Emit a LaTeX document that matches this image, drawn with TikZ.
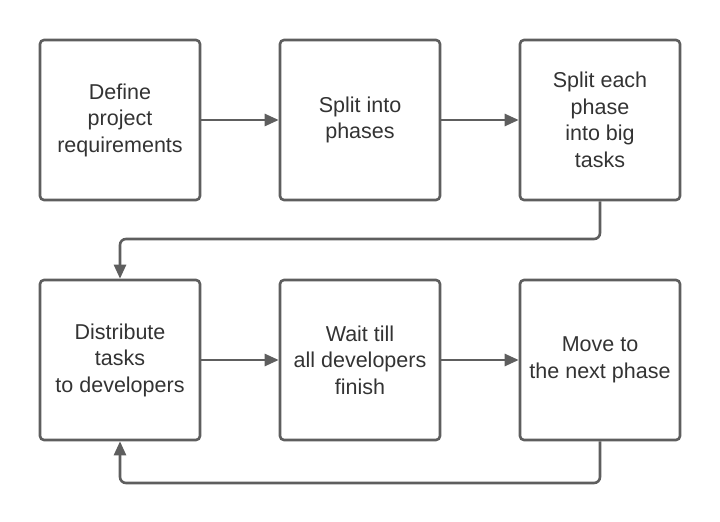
\documentclass[tikz,border=0pt]{standalone}
\usepackage{fontspec}
\setmainfont{Liberation Sans}
\usetikzlibrary{arrows.meta}
\definecolor{ln}{HTML}{5E5E5E}
\definecolor{tx}{HTML}{333333}
\begin{document}
\begin{tikzpicture}[x=1bp,y=-1bp,
  box/.style={draw=ln, line width=2.6bp, rounded corners=4bp, minimum width=160bp, minimum height=160bp,
    inner sep=0pt, align=center, text=tx, font=\fontsize{21.5bp}{26.5bp}\selectfont},
  conn/.style={draw=ln, line width=2.6bp, rounded corners=6bp, -{Triangle[length=14bp,width=12bp]}}]
\useasboundingbox (0,0) rectangle (720,522);
\node[box] (a) at (120,120) {Define\\project\\requirements};
\node[box] (b) at (360,120) {Split into\\phases};
\node[box] (c) at (600,120) {Split each\\phase\\into big\\tasks};
\node[box] (d) at (120,360) {Distribute\\tasks\\to developers};
\node[box] (e) at (360,360) {Wait till\\all developers\\finish};
\node[box] (f) at (600,360) {Move to\\the next phase};
\draw[conn] (a) -- (b);
\draw[conn] (b) -- (c);
\draw[conn] (d) -- (e);
\draw[conn] (e) -- (f);
\draw[conn] (c.south) -- (600,239) -- (120,239) -- (d.north);
\draw[conn] (f.south) -- (600,483) -- (120,483) -- (d.south);
\end{tikzpicture}
\end{document}
